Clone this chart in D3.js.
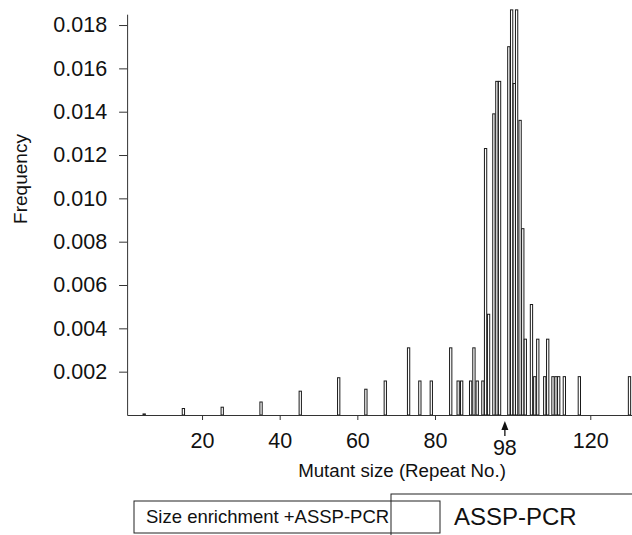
<!DOCTYPE html>
<html>
<head>
<meta charset="utf-8">
<script src="https://cdn.jsdelivr.net/npm/d3@7"></script>
<style>
  body { margin: 0; background: #fff; }
  svg text { font-family: "Liberation Sans", Arial, Helvetica, sans-serif; fill: #111; }
</style>
</head>
<body>
<div id="chart"></div>
<script>
// repeat number of each bar (read off the picture, not always whole numbers)
var repeatNo = [5.1, 15.2, 25.2, 35.2, 45.3, 55.2, 62.2, 67.2, 73.2, 76.1, 79.05,
    84.05, 85.97, 86.87, 89.18, 90.03, 90.88, 92.34, 93.03, 93.8, 95.17, 95.94, 96.63,
    99.02, 99.74, 100.43, 101.02, 101.92, 102.61, 103.26, 104.85, 105.7, 106.47,
    108.27, 109.03, 110.39, 111.16, 111.86, 113.32, 117.18, 130.1];
// frequency of each bar
var frequency = [0.00005, 0.0003, 0.00036, 0.0006, 0.0011, 0.00172, 0.00119, 0.00157, 0.0031, 0.00157, 0.00157,
    0.0031, 0.00157, 0.00157, 0.00157, 0.0031, 0.00157, 0.00157, 0.0123, 0.00465, 0.0139, 0.0154, 0.0154,
    0.0170, 0.0187, 0.0153, 0.0187, 0.0136, 0.0086, 0.0035, 0.0051, 0.00177, 0.0035,
    0.00177, 0.0035, 0.00177, 0.00177, 0.00177, 0.00177, 0.00177, 0.00177];
var xTicks = [20, 40, 60, 80, 120];
var yTicks = [0.002, 0.004, 0.006, 0.008, 0.010, 0.012, 0.014, 0.016, 0.018];
var markedRepeat = 98;
var xTitle = "Mutant size (Repeat No.)";
var yTitle = "Frequency";
var boxLabels = ["Size enrichment +ASSP-PCR", "ASSP-PCR"];

var width = 632, height = 535;

var svg = d3.select("#chart")
    .append("svg")
    .attr("width", width)
    .attr("height", height);

var x = d3.scaleLinear()
    .domain([0.7, 131])
    .range([127.1, 633]);

var y = d3.scaleLinear()
    .domain([0, 0.0185])
    .range([415, 14.2]);

var data = repeatNo.map(function(d, i) {
    return { x: d, f: frequency[i] };
});

// bars
var barW = 2.3;
svg.append("g").selectAll("rect")
    .data(data)
    .enter().append("rect")
    .attr("x", function(d) { return x(d.x) - barW / 2; })
    .attr("y", function(d) { return y(d.f); })
    .attr("width", barW)
    .attr("height", function(d) { return y(0) - y(d.f); })
    .attr("fill", "#fff")
    .attr("stroke", "#1a1a1a")
    .attr("stroke-width", 1);

// y axis
var yAxis = d3.axisLeft(y)
    .tickValues(yTicks)
    .tickFormat(d3.format(".3f"))
    .tickSizeInner(8)
    .tickSizeOuter(0)
    .tickPadding(12);

var gy = svg.append("g")
    .attr("transform", "translate(" + x(0.7) + ",0)")
    .call(yAxis);
gy.selectAll("text").style("font-size", "21.5px");
gy.selectAll("line, path").attr("stroke", "#333");

// x axis
var xAxis = d3.axisBottom(x)
    .tickValues(xTicks)
    .tickSizeInner(5)
    .tickSizeOuter(0)
    .tickPadding(13);

var gx = svg.append("g")
    .attr("transform", "translate(0," + y(0) + ")")
    .call(xAxis);
gx.selectAll("text").style("font-size", "21.5px");
gx.selectAll("line, path").attr("stroke", "#333");

// arrow + label for 98
var ax = x(markedRepeat);
svg.append("line")
    .attr("x1", ax).attr("x2", ax)
    .attr("y1", 436).attr("y2", 428)
    .attr("stroke", "#111").attr("stroke-width", 1.3);
svg.append("path")
    .attr("d", "M" + (ax - 3.5) + ",430 L" + ax + ",421 L" + (ax + 3.5) + ",430 Z")
    .attr("fill", "#111");
svg.append("text")
    .attr("x", ax)
    .attr("y", 455)
    .attr("text-anchor", "middle")
    .style("font-size", "21.5px")
    .text(markedRepeat);

// axis titles
svg.append("text")
    .attr("text-anchor", "middle")
    .attr("transform", "translate(402,477)")
    .style("font-size", "18.7px")
    .text(xTitle);

svg.append("text")
    .attr("text-anchor", "middle")
    .attr("transform", "translate(27,179)rotate(-90)")
    .style("font-size", "19px")
    .text(yTitle);

// boxes at the bottom
svg.append("rect")
    .attr("x", 391).attr("y", 494)
    .attr("width", 300).attr("height", 100)
    .attr("fill", "none").attr("stroke", "#222").attr("stroke-width", 1);
svg.append("rect")
    .attr("x", 134).attr("y", 501)
    .attr("width", 306).attr("height", 32)
    .attr("fill", "none").attr("stroke", "#222").attr("stroke-width", 1);

svg.append("text")
    .attr("x", 146).attr("y", 523)
    .style("font-size", "18.5px")
    .text(boxLabels[0]);
svg.append("text")
    .attr("x", 454).attr("y", 525)
    .style("font-size", "24px")
    .text(boxLabels[1]);
</script>
</body>
</html>
